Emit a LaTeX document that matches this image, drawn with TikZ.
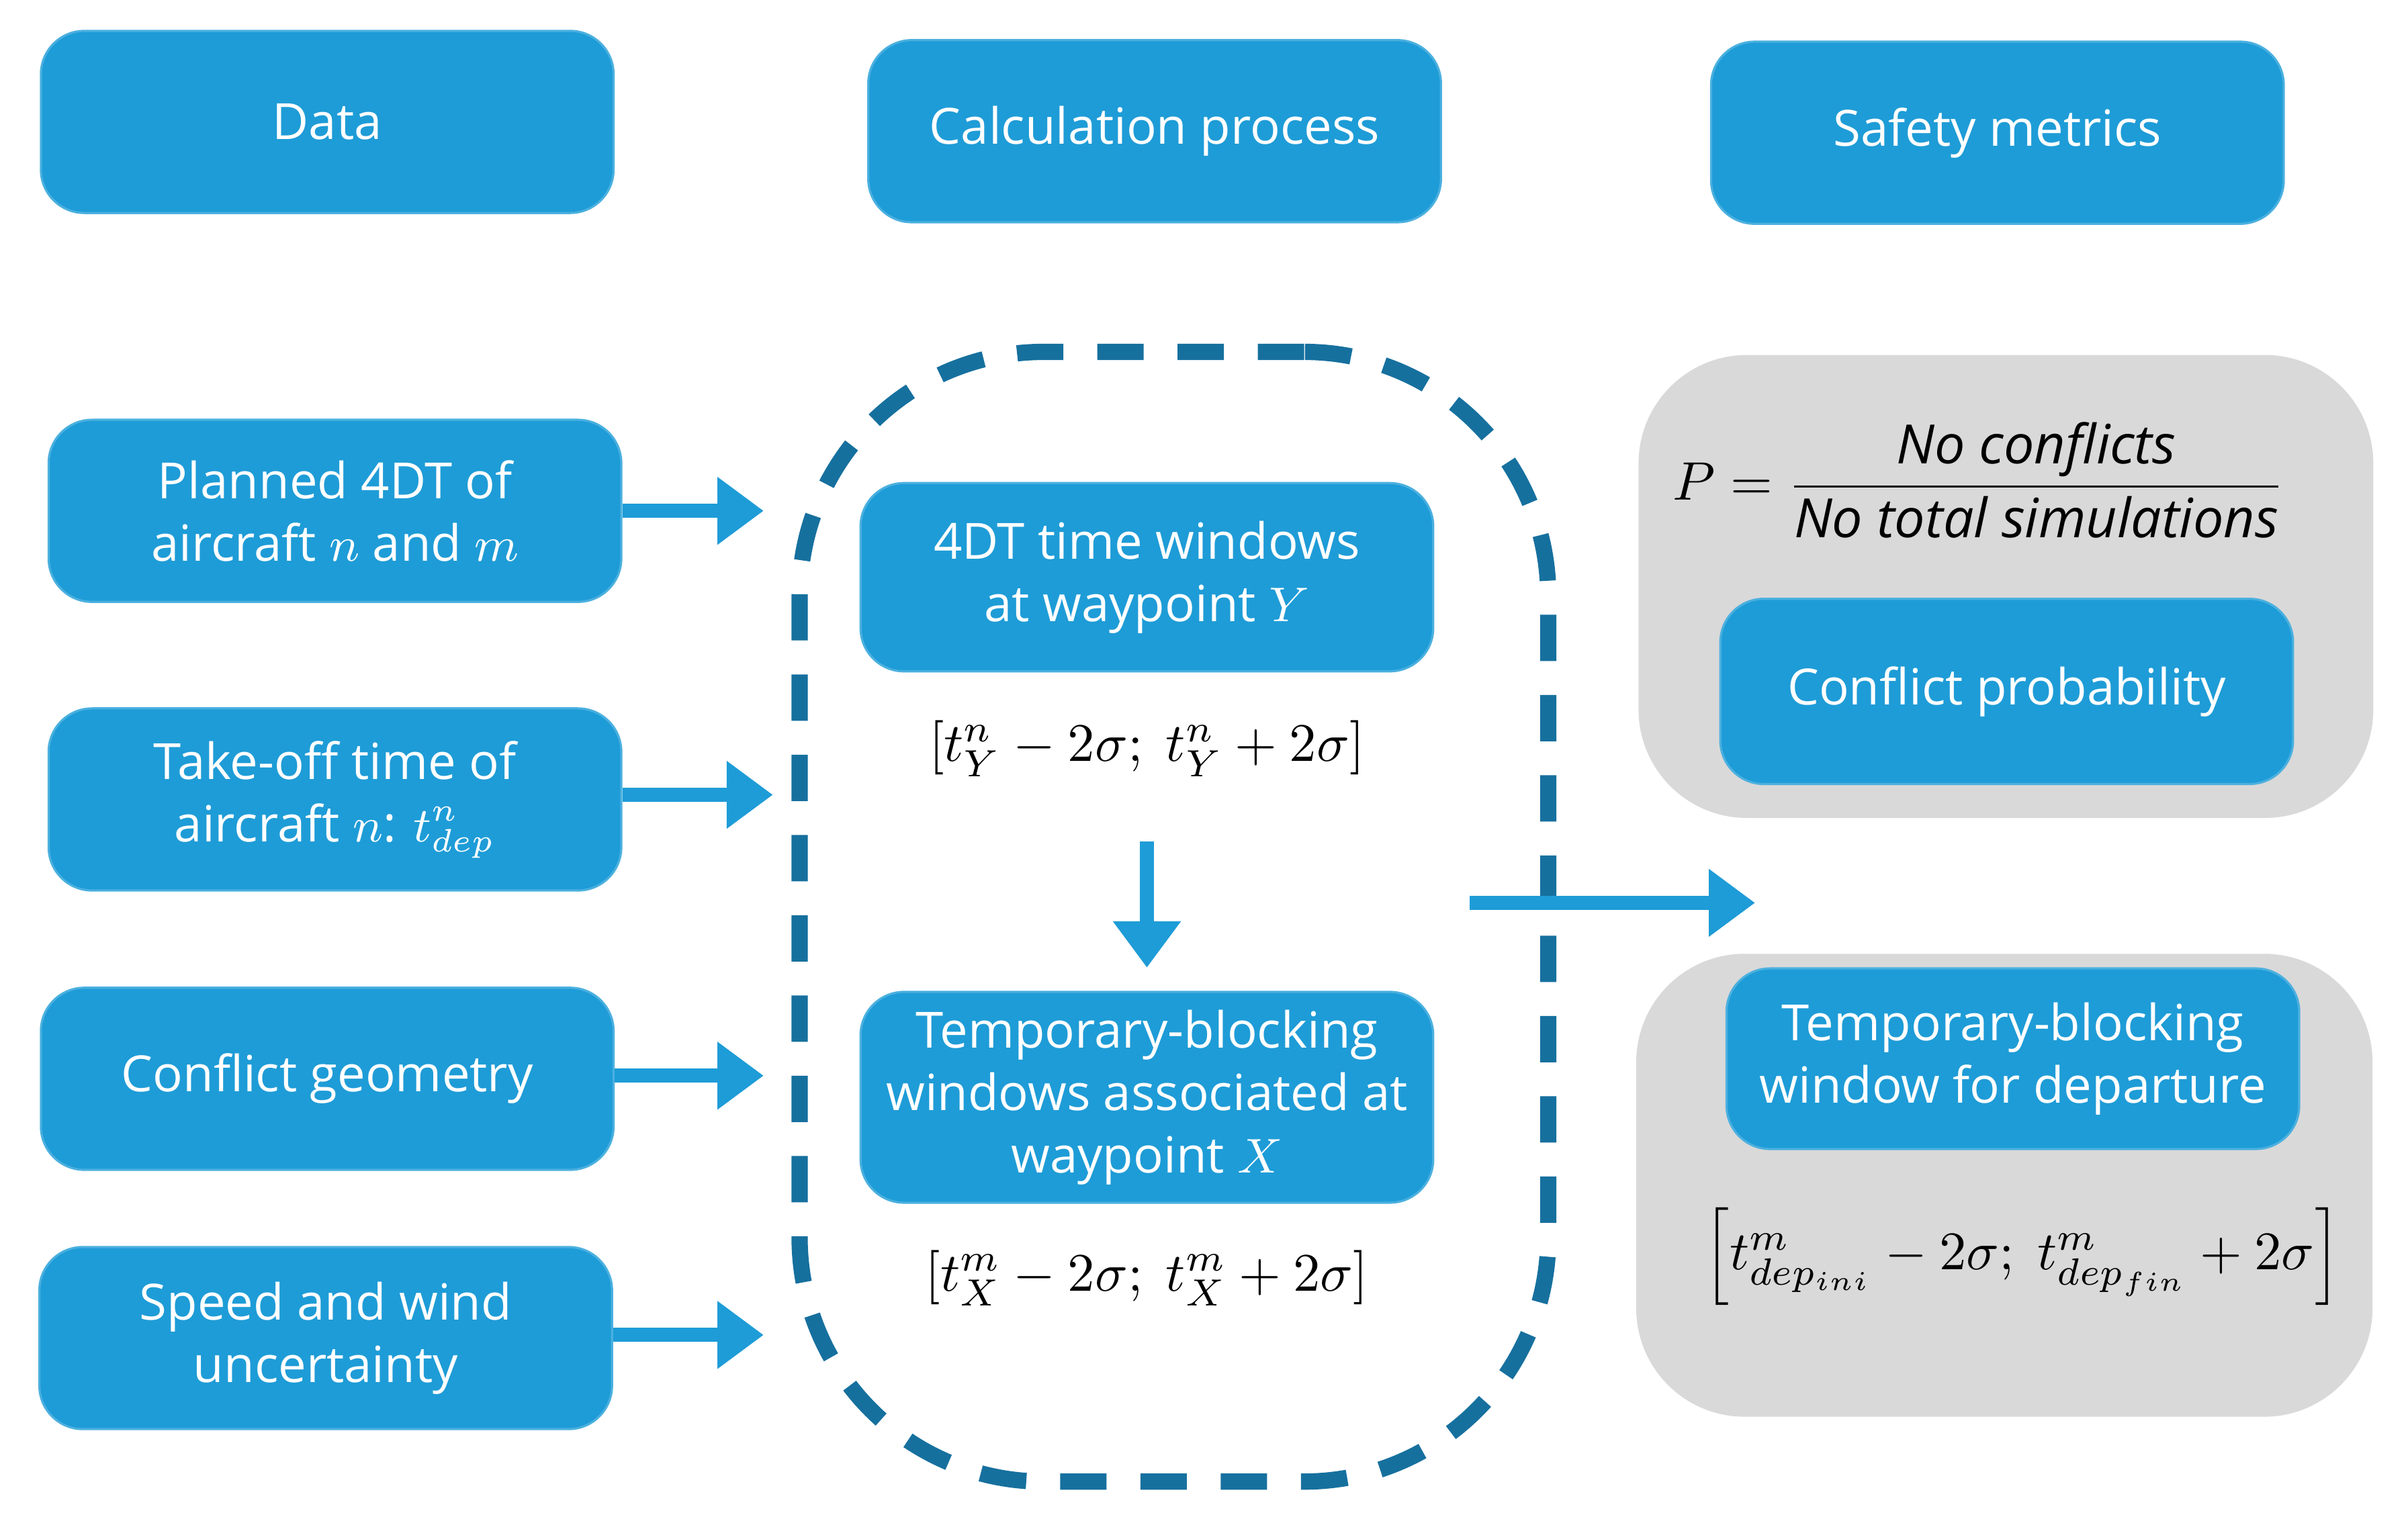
\documentclass[tikz,border=0pt]{standalone}
\usepackage{amsmath}
\usepackage{fontspec}
\setmainfont{Open Sans}
\usepackage{tikz}
\usetikzlibrary{arrows.meta,positioning}
\definecolor{boxblue}{HTML}{1E9CD7}
\definecolor{dashblue}{HTML}{16709E}
\definecolor{panelgray}{HTML}{D9D9D9}
\tikzset{
  bluebox/.style={draw=boxblue!80!white, fill=boxblue, rounded corners=8pt, text=white,
    minimum width=3.71cm, minimum height=1.18cm, align=center, font=\fontsize{9.2}{11.5}\selectfont},
  panel/.style={fill=panelgray, rounded corners=20pt, minimum width=4.76cm, minimum height=3cm},
  flow/.style={-{Triangle[length=0.3cm,width=0.42cm]}, line width=2.6pt, draw=boxblue},
  math/.style={font=\fontsize{10}{12}\selectfont}
}
\begin{document}
\begin{tikzpicture}
        \useasboundingbox (0,0) rectangle (15.6,9.8);
        % Column titles
        \node[bluebox] (data) at (2.12,9.01) {Data};
        \node[bluebox] (calc) at (7.48,8.95) {Calculation process};
        \node[bluebox] (safety) at (12.94,8.94) {Safety metrics};
        
        % Inputs
        \node[bluebox] (plan) at (2.17,6.49) {Planned 4DT of\\aircraft $n$ and $m$};
        \node[bluebox] (takeoff) at (2.17,4.62) {Take-off time of\\aircraft $n$: $t^{n}_{dep}$};
        \node[bluebox] (geom) at (2.12,2.81) {Conflict geometry};
        \node[bluebox] (speed) at (2.11,1.13) {Speed and wind\\uncertainty};
        
        % Calculation process
        \node[draw=dashblue, line width=3pt, dash pattern=on 0.3cm off 0.22cm, rounded corners=45pt,
          minimum width=4.85cm, minimum height=7.32cm] (proc) at (7.605,3.86) {};
        \node[bluebox, minimum height=1.22cm] (window) at (7.43,6.06) {4DT time windows\\at waypoint $Y$};
        \node[math] (winY) at (7.43,4.95) {$[t^{n}_{Y}-2\sigma;\ t^{n}_{Y}+2\sigma]$};
        \node[bluebox, minimum height=1.3cm] (block) at (7.43,2.69) {Temporary-blocking\\windows associated at\\waypoint $X$};
        \node[math] (winX) at (7.43,1.52) {$[t^{m}_{X}-2\sigma;\ t^{m}_{X}+2\sigma]$};
        \coordinate (outA) at (9.52,3.95);
        
        % Safety metrics
        \node[panel] (panelA) at (12.995,6.0) {};
        \node[panel, minimum width=4.77cm] (panelB) at (12.985,2.12) {};
        \node[math] (prob) at (12.82,6.69) {$P=\dfrac{\mathit{No\ conflicts}}{\mathit{No\ total\ simulations}}$};
        \node[bluebox, minimum height=1.2cm] (conflict) at (13.0,5.32) {Conflict probability};
        \node[bluebox, minimum height=1.17cm] (depart) at (13.04,2.94) {Temporary-blocking\\window for departure};
        \node[math] (winDep) at (13.1,1.66) {$\left[t^{m}_{dep_{ini}}-2\sigma;\ t^{m}_{dep_{fin}}+2\sigma\right]$};
        \coordinate (inB) at (11.37,3.95);
        
        % Arrows
        \draw[flow] (plan.east) -- ([xshift=-0.18cm]plan.east -| proc.west);
        \draw[flow] ([yshift=0.03cm]takeoff.east) -- ([xshift=-0.12cm,yshift=0.03cm]takeoff.east -| proc.west);
        \draw[flow] ([yshift=0.02cm]geom.east) -- ([xshift=-0.18cm,yshift=0.02cm]geom.east -| proc.west);
        \draw[flow] ([yshift=0.02cm]speed.east) -- ([xshift=-0.18cm,yshift=0.02cm]speed.east -| proc.west);
        \draw[flow] ([yshift=-0.3cm]winY.south) -- ([yshift=0.15cm]block.north);
        \draw[flow] (outA) -- (inB);
\end{tikzpicture}
\end{document}
